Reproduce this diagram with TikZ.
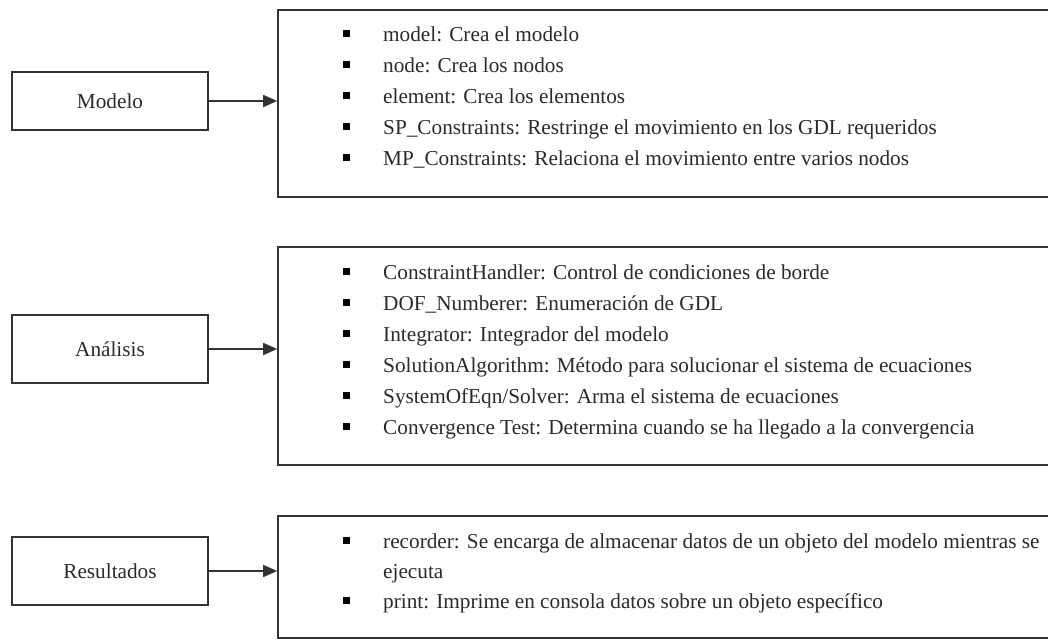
\documentclass[tikz,border=0pt]{standalone}
\usepackage{fontspec}
\setmainfont{Liberation Serif}
\usetikzlibrary{arrows.meta}
\definecolor{ln}{HTML}{333333}
\definecolor{tx}{HTML}{2A2A2A}
\begin{document}
\begin{tikzpicture}[x=1pt,y=-1pt,
  lbox/.style={draw=ln,line width=1.6pt,minimum width=196pt,inner sep=0pt,font=\fontsize{21.25pt}{25pt}\selectfont,text=tx},
  rbox/.style={draw=ln,line width=1.6pt,inner sep=0pt},
  item/.style={anchor=base west,inner sep=0pt,font=\fontsize{21.25pt}{25pt}\selectfont,text=tx},
  bul/.style={fill=black,minimum size=7pt,inner sep=0pt},
  conn/.style={draw=ln,line width=1.4pt,-{Triangle[length=14pt,width=12pt]}}]
\useasboundingbox (0,0) rectangle (1048,639);
\clip (0,0) rectangle (1048,639);
% left boxes
\node[lbox,minimum height=58pt] (l1) at (110,101) {Modelo};
\node[lbox,minimum height=68pt] (l2) at (110,349) {Análisis};
\node[lbox,minimum height=68pt] (l3) at (110,571) {Resultados};
% right boxes
\node[rbox,minimum width=800pt,minimum height=187pt] (r1) at (678,103.5) {};
\node[rbox,minimum width=800pt,minimum height=218pt] (r2) at (678,356) {};
\node[rbox,minimum width=800pt,minimum height=122pt] (r3) at (678,577) {};
% connectors
\draw[conn] (l1.east) -- (l1.east -| r1.west);
\draw[conn] (l2.east) -- (l2.east -| r2.west);
\draw[conn] (l3.east) -- (l3.east -| r3.west);
% box 1 items
\foreach \y/\t [count=\i] in {42/{model: Crea el modelo},73/{node: Crea los nodos},104/{element: Crea los elementos},135/{SP\_Constraints: Restringe el movimiento en los GDL requeridos},166/{MP\_Constraints: Relaciona el movimiento entre varios nodos}}{
  \node[bul] (ba\i) at (346,\y-8) {};
  \node[item] (ta\i) at (383,\y) {\t};
}
% box 2 items
\foreach \y/\t [count=\i] in {279/{ConstraintHandler: Control de condiciones de borde},310/{DOF\_Numberer: Enumeración de GDL},341/{Integrator: Integrador del modelo},372/{SolutionAlgorithm: Método para solucionar el sistema de ecuaciones},403/{SystemOfEqn/Solver: Arma el sistema de ecuaciones},434/{Convergence Test: Determina cuando se ha llegado a la convergencia}}{
  \node[bul] (bb\i) at (346,\y-8) {};
  \node[item] (tb\i) at (383,\y) {\t};
}
% box 3 items
\node[bul] (bc1) at (346,540) {};
\node[item] (tc1) at (383,548) {recorder: Se encarga de almacenar datos de un objeto del modelo mientras se};
\node[item] (tc1b) at (383,578) {ejecuta};
\node[bul] (bc2) at (346,600) {};
\node[item] (tc2) at (383,608) {print: Imprime en consola datos sobre un objeto específico};
\end{tikzpicture}
\end{document}
